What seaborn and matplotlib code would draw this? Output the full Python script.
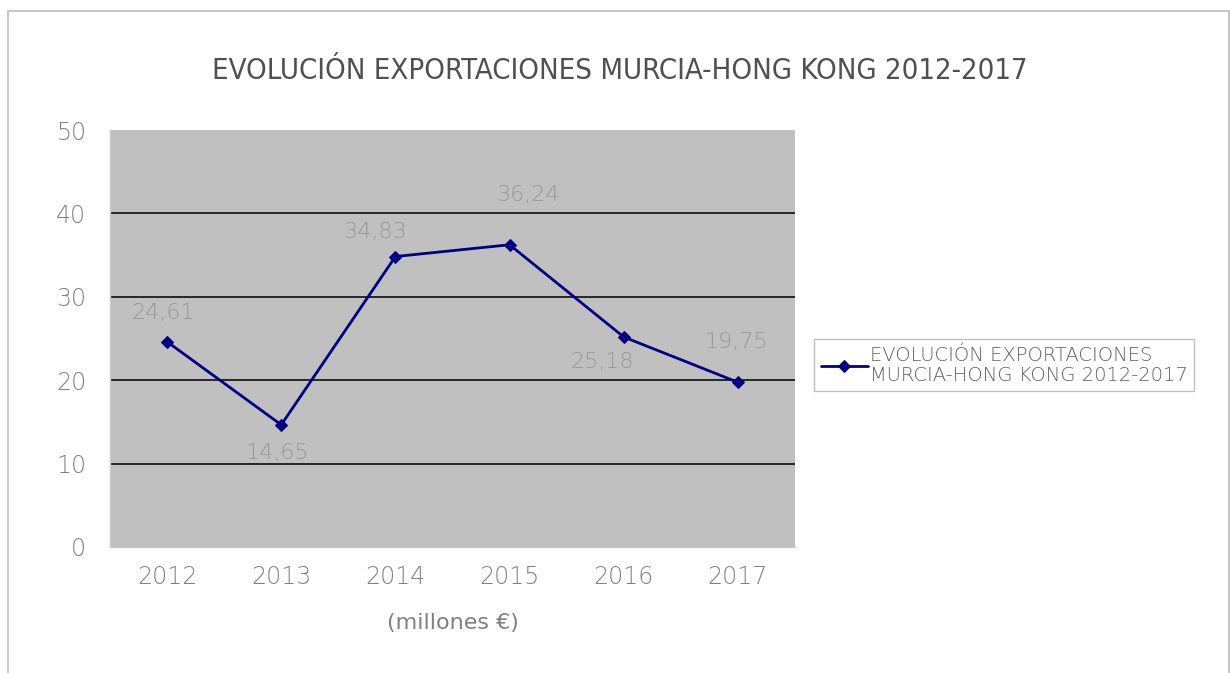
import matplotlib
matplotlib.use("Agg")
import matplotlib.pyplot as plt
import seaborn as sns
import pandas as pd
from matplotlib.patches import Rectangle

# data
years = ["2012", "2013", "2014", "2015", "2016", "2017"]
values = [24.61, 14.65, 34.83, 36.24, 25.18, 19.75]
value_labels = ["24,61", "14,65", "34,83", "36,24", "25,18", "19,75"]
series_name = "EVOLUCIÓN EXPORTACIONES MURCIA-HONG KONG 2012-2017"
y_ticks = [0, 10, 20, 30, 40, 50]

# where each data label sits relative to its marker (pixels)
label_dx = [-4, -4, -20, 18, -22, -2]
label_dy = [29, -28, 25, 50, -25, 40]

sns.set_theme(style="white")
plt.rcParams["font.family"] = ["DejaVu Sans"]
plt.rcParams["font.weight"] = "light"

df = pd.DataFrame({"year": years, "value": values})
df["pos"] = range(len(years))

fig = plt.figure(figsize=(12.3, 6.73), dpi=100)
fig.patches.append(Rectangle((8 / 1230, -0.01), 1221 / 1230, (673 - 11) / 673 + 0.01,
                             transform=fig.transFigure, fill=False,
                             edgecolor="#c8c8c8", linewidth=1.5))

ax = fig.add_axes([110 / 1230, 126 / 673, 685 / 1230, 417 / 673])
ax.set_facecolor("#c0c0c0")

sns.lineplot(data=df, x="pos", y="value", ax=ax, color="#000080", linewidth=2,
             marker="D", markersize=6, markeredgecolor="#000080", label=series_name)

ax.set_xlim(-0.5, len(years) - 0.5)
ax.set_ylim(0, 50)
ax.set_yticks(y_ticks)
ax.set_yticklabels([str(t) for t in y_ticks], color="#808080", fontsize=17)
for t in y_ticks[1:-1]:
    ax.axhline(t, color="#1a1a1a", linewidth=1.3, zorder=1)

ax.set_xticks(df["pos"])
ax.set_xticklabels(years, color="#808080", fontsize=17)
ax.set_xticks([i - 0.5 for i in range(len(years) + 1)], minor=True)
ax.tick_params(axis="x", which="major", length=0, pad=13)
ax.tick_params(axis="x", which="minor", length=6, color="#b0b0b0", width=1)
ax.tick_params(axis="y", length=7, color="#b0b0b0", width=1, pad=10)

for s in ["top", "right"]:
    ax.spines[s].set_visible(False)
for s in ["left", "bottom"]:
    ax.spines[s].set_color("#c8c8c8")
    ax.spines[s].set_linewidth(1)

for i, (v, lab) in enumerate(zip(values, value_labels)):
    ax.annotate(lab, (i, v), xytext=(label_dx[i], label_dy[i]), textcoords="offset pixels",
                ha="center", va="center", color="#989898", fontsize=16)

ax.set_xlabel("(millones €)", color="#808080", fontsize=16, labelpad=17)
ax.set_ylabel("")

fig.text(620 / 1230, 1 - 71 / 673, series_name, ha="center", va="center",
         fontsize=21, color="#505050", fontstretch="condensed")

leg = ax.legend(loc="center left", bbox_to_anchor=(1.028, 0.436), frameon=True,
                fancybox=False, fontsize=14, handlelength=2.4, handletextpad=0.1,
                borderpad=0.35, borderaxespad=0)
leg.get_frame().set_edgecolor("#b0b0b0")
leg.get_frame().set_linewidth(1)
txt = leg.get_texts()[0]
txt.set_text("EVOLUCIÓN EXPORTACIONES\nMURCIA-HONG KONG 2012-2017")
txt.set_color("#606060")
txt.set_linespacing(1.05)

fig.savefig("out.png", dpi=100)
